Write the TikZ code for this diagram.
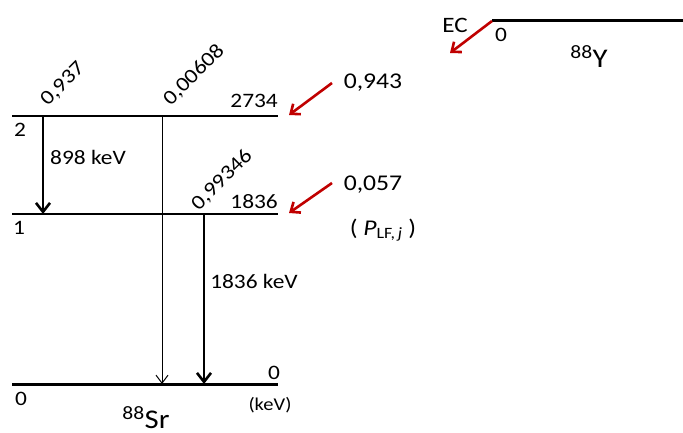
\documentclass[tikz,border=0pt]{standalone}
\usepackage{fontspec}
\setmainfont{Carlito}[FakeStretch=1.14]
\usetikzlibrary{arrows.meta}
\definecolor{ecred}{RGB}{192,0,0}
\begin{document}
\begin{tikzpicture}[x=1pt,y=-1pt,
  lvl/.style={line width=1.2pt},
  lvlthick/.style={line width=3pt},
  lbl/.style={inner sep=0pt,font=\fontsize{20.5}{24}\selectfont},
  prob/.style={lbl,rotate=45},
  gamma/.style={line width=2.6pt,-{Straight Barb[length=9pt,width=14pt,line width=2.6pt]}},
  gthin/.style={line width=1pt,-{Straight Barb[length=8pt,width=12pt,line width=1pt]}},
  feed/.style={ecred,line width=2.6pt,-{Straight Barb[length=8pt,width=13pt,line width=2.6pt]}}]
\useasboundingbox (0,0) rectangle (683,433);

% level endpoints
\coordinate (l2a) at (12,116);  \coordinate (l2b) at (278,116);
\coordinate (l1a) at (12,214);  \coordinate (l1b) at (278,214);
\coordinate (l0a) at (12,384);  \coordinate (l0b) at (278,384);
\coordinate (ya) at (492,21);   \coordinate (yb) at (683,21);

% levels of 88Sr and 88Y
\draw[lvl] (l2a) -- (l2b);
\draw[lvl] (l1a) -- (l1b);
\draw[lvlthick] (l0a) -- (l0b);
\draw[lvlthick] (ya) -- (yb);

% gamma transitions
\coordinate (g1s) at (43,116);  \coordinate (g1e) at (43,214);
\coordinate (g2s) at (162,116); \coordinate (g2e) at (162,384);
\coordinate (g3s) at (204,214); \coordinate (g3e) at (204,384);
\draw[gamma] (g1s) -- (g1e);
\draw[gthin] (g2s) -- (g2e);
\draw[gamma] (g3s) -- (g3e);

% electron capture feeding
\coordinate (ec) at (450,53);
\coordinate (f2s) at (332,83);  \coordinate (f2e) at (289,115);
\coordinate (f1s) at (332,183); \coordinate (f1e) at (289,213);
\draw[feed] (ya) -- (ec);
\draw[feed] (f2s) -- (f2e);
\draw[feed] (f1s) -- (f1e);

% labels
\node[prob] (p1) at (63,84) {0,937};
\node[prob] (p2) at (194,75) {0,00608};
\node[prob] (p3) at (222,180) {0,99346};
\node[lbl,anchor=base east] (e2) at (278,108) {2734};
\node[lbl,anchor=base east] (e1) at (278,208) {1836};
\node[lbl] (n2) at (20,130) {2};
\node[lbl] (n1) at (19,228) {1};
\node[lbl] (n0) at (21,399) {0};
\node[lbl] (e0) at (274,373) {0};
\node[lbl,font=\fontsize{18}{20}\selectfont] (kev) at (270,405) {(keV)};
\node[lbl] (t1) at (88,157) {898 keV};
\node[lbl] (t2) at (254,281) {1836 keV};
\node[lbl,font=\fontsize{27}{30}\selectfont] (sr) at (146,418) {\textsuperscript{88}Sr};
\node[lbl,font=\fontsize{27}{30}\selectfont] (yy) at (589,57) {\textsuperscript{88}Y};
\node[lbl,font=\fontsize{22}{26}\selectfont] (ecl) at (455,25) {EC};
\node[lbl] (y0) at (501,35) {0};
\node[lbl,font=\fontsize{22.5}{26}\selectfont] (b2) at (373,83) {0,943};
\node[lbl,font=\fontsize{22.5}{26}\selectfont] (b1) at (373,185) {0,057};
\node[lbl,font=\fontsize{22.5}{26}\selectfont] (plf) at (383,230) {( \textit{P}\textsubscript{LF,\,\textit{j}} )};
\end{tikzpicture}
\end{document}
